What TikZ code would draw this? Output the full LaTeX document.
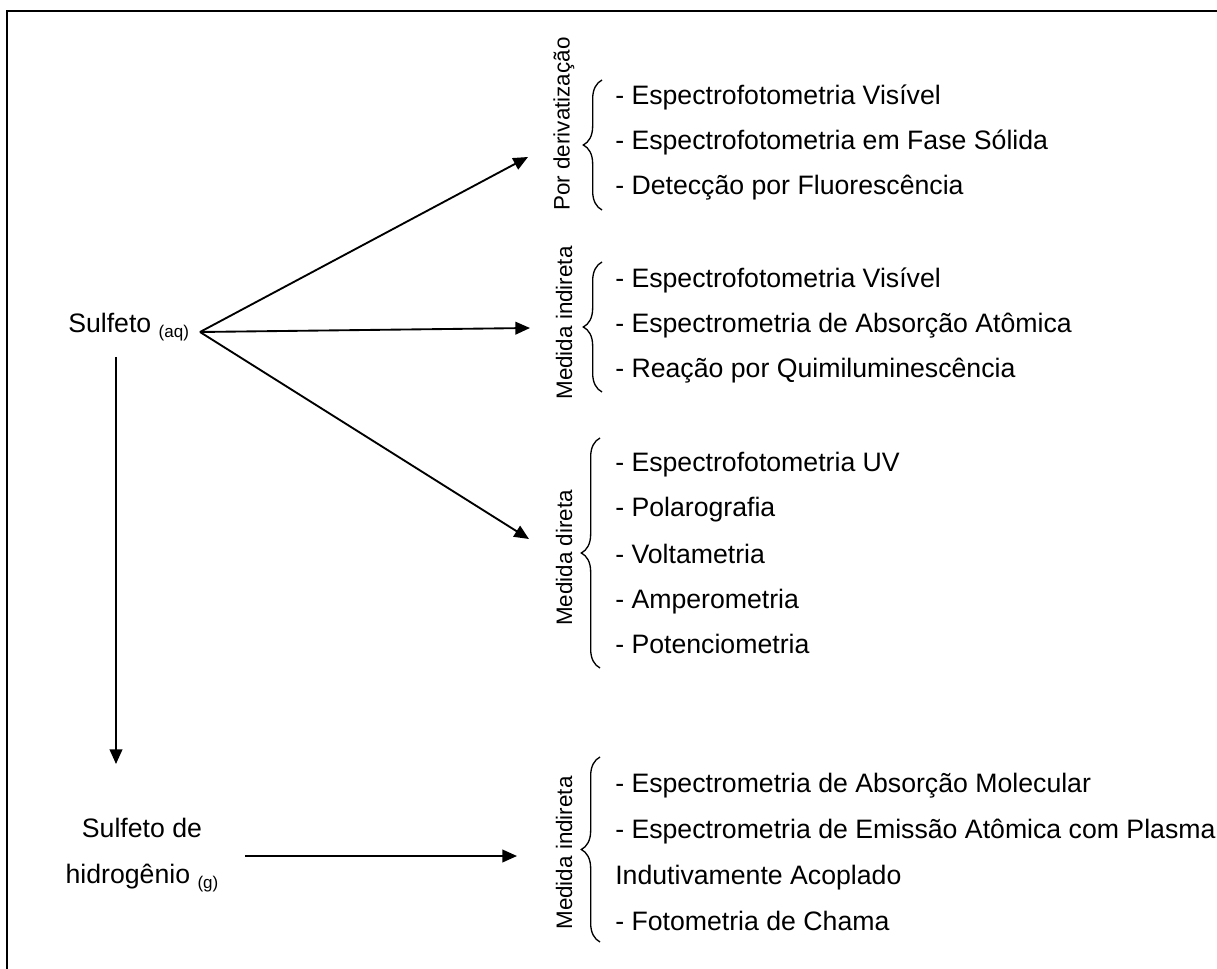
\documentclass[tikz,border=0pt]{standalone}
\usepackage{fontspec}
\setmainfont{Liberation Sans}
\usetikzlibrary{arrows.meta,decorations.pathreplacing}
\newcommand{\subtxt}[1]{\raisebox{-3.75pt}{\fontsize{12.75}{14}\selectfont #1}}
\begin{document}
\begin{tikzpicture}[x=0.75pt,y=-0.75pt,
  item/.style={anchor=base west,inner sep=0pt,font=\fontsize{20}{24}\selectfont},
  vlabel/.style={rotate=90,inner sep=0pt,font=\fontsize{16.8}{20}\selectfont},
  bigtext/.style={anchor=base,inner sep=0pt,font=\fontsize{20}{24}\selectfont},
  conn/.style={line width=1.4pt,-{Triangle[length=11pt,width=9.5pt]}},
  bracestyle/.style={line width=1pt,decorate,decoration={brace,amplitude=14pt}},
  framestyle/.style={line width=1.5pt}]
\useasboundingbox (0,0) rectangle (1217,969);
\draw[framestyle] (7,969) -- (7,11) -- (1217,11);

% left labels
\node[bigtext,anchor=base west] (s) at (68,333) {Sulfeto \subtxt{(aq)}};
\node[bigtext] (h1) at (142,837) {Sulfeto de};
\node[bigtext] (h2) at (142,883) {hidrog\^enio \subtxt{(g)}};

% connector ends
\coordinate (src) at (200,332);
\coordinate (t1) at (528,157);
\coordinate (t2) at (530,328);
\coordinate (t3) at (529,539);
\coordinate (vs) at (116,357);
\coordinate (t4) at (116,764);
\coordinate (hs) at (245,856);
\coordinate (t5) at (517,856);

\draw[conn] (src) -- (t1);
\draw[conn] (src) -- (t2);
\draw[conn] (src) -- (t3);
\draw[conn] (vs) -- (t4);
\draw[conn] (hs) -- (t5);

% rotated labels
\node[vlabel] (l1) at (564,124) {Por derivatização};
\node[vlabel] (l2) at (564,323) {Medida indireta};
\node[vlabel] (l3) at (564,558) {Medida direta};
\node[vlabel] (l4) at (564,853) {Medida indireta};

% braces
\draw[bracestyle] (602,210) -- (602,80);
\draw[bracestyle] (602,392) -- (602,262);
\draw[bracestyle] (600,668) -- (600,438);
\draw[bracestyle] (600,942) -- (600,757);

% group 1
\node[item] (a1) at (615,105) {- Espectrofotometria Visível};
\node[item] (a2) at (615,150) {- Espectrofotometria em Fase Sólida};
\node[item] (a3) at (615,195) {- Detecção por Fluorescência};
% group 2
\node[item] (b1) at (615,288) {- Espectrofotometria Visível};
\node[item] (b2) at (615,333) {- Espectrometria de Absorção Atômica};
\node[item] (b3) at (615,378) {- Reação por Quimiluminescência};
% group 3
\node[item] (c1) at (615,472) {- Espectrofotometria UV};
\node[item] (c2) at (615,517) {- Polarografia};
\node[item] (c3) at (615,563) {- Voltametria};
\node[item] (c4) at (615,608) {- Amperometria};
\node[item] (c5) at (615,653) {- Potenciometria};
% group 4
\node[item] (d1) at (615,792) {- Espectrometria de Absorção Molecular};
\node[item] (d2) at (615,838) {- Espectrometria de Emissão Atômica com Plasma};
\node[item] (d3) at (615,884) {Indutivamente Acoplado};
\node[item] (d4) at (615,930) {- Fotometria de Chama};
\end{tikzpicture}
\end{document}
